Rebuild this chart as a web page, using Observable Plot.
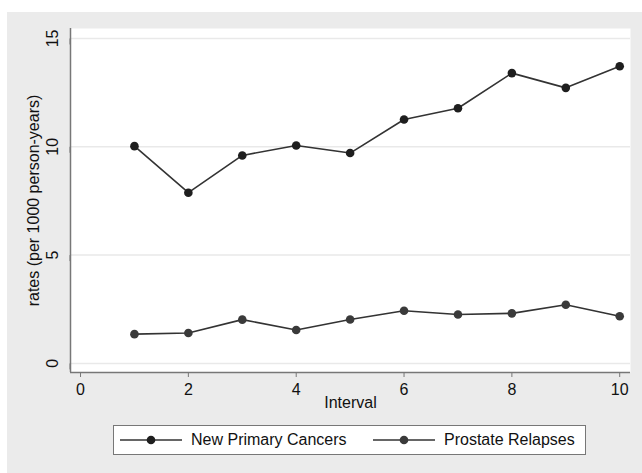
<!DOCTYPE html>
<html>
<head>
<meta charset="utf-8">
<script src="https://cdn.jsdelivr.net/npm/d3@7"></script>
<script src="https://cdn.jsdelivr.net/npm/@observablehq/plot@0.6"></script>
<style>
  html, body { margin: 0; padding: 0; background: #fff; }
  #wrap { position: relative; width: 642px; height: 473px; background: #fff; overflow: hidden;
          font-family: "Liberation Sans", Arial, Helvetica, sans-serif; }
  #bg { position: absolute; left: 7px; top: 12px; right: 0; bottom: 0; background: #ebebeb; }
  #chart { position: absolute; left: 0; top: 0; }
  #legend { position: absolute; left: 113px; top: 425px; width: 471px; height: 28px;
            background: #fff; border: 1px solid #777; font-size: 16px; color: #111; }
  .item { position: absolute; top: 0; height: 28px; display: flex; align-items: center; }
  .item svg { display: block; margin-right: 8px; }
</style>
</head>
<body>
<div id="wrap">
  <div id="bg"></div>
  <div id="chart"></div>
  <div id="legend"></div>
</div>
<script>
const intervals = [1, 2, 3, 4, 5, 6, 7, 8, 9, 10];
const newPrimary = [10.03, 7.88, 9.60, 10.06, 9.71, 11.26, 11.78, 13.40, 12.72, 13.72];
const prostate = [1.35, 1.40, 2.02, 1.54, 2.03, 2.43, 2.26, 2.31, 2.71, 2.18];
const seriesNames = ["New Primary Cancers", "Prostate Relapses"];
const seriesDotColors = ["#1e1e1e", "#3a3a3a"];
const xTicks = [0, 2, 4, 6, 8, 10];
const yTicks = [0, 5, 10, 15];
const xLabel = "Interval";
const yLabel = "rates (per 1000 person-years)";

const rows = [];
intervals.forEach((x, i) => {
  rows.push({interval: x, rate: newPrimary[i], series: seriesNames[0]});
  rows.push({interval: x, rate: prostate[i], series: seriesNames[1]});
});

const xDomain = [-0.186, 10.2];
const yDomain = [-0.42, 15.46];

const chart = Plot.plot({
  width: 642,
  height: 473,
  marginLeft: 70,
  marginRight: 12,
  marginTop: 28,
  marginBottom: 101,
  style: {background: "transparent", fontFamily: "'Liberation Sans', Arial, Helvetica, sans-serif", fontSize: "16px", color: "#111"},
  x: {domain: xDomain},
  y: {domain: yDomain},
  color: {domain: seriesNames, range: seriesDotColors},
  marks: [
    Plot.frame({fill: "#fff", stroke: "none"}),
    Plot.gridY(yTicks, {stroke: "#e9e9e9", strokeOpacity: 1, strokeWidth: 1.5}),
    Plot.ruleX([xDomain[0]], {stroke: "#777", strokeWidth: 1.5}),
    Plot.ruleY([yDomain[0]], {stroke: "#777", strokeWidth: 1.5}),
    Plot.axisY(yTicks, {anchor: "left", tickSize: 6, tickPadding: 12, rotate: -90, textAnchor: "middle", stroke: "#777", label: null, fontSize: 16}),
    Plot.axisX(xTicks, {anchor: "bottom", tickSize: 5, tickPadding: 6, stroke: "#777", label: null, fontSize: 16}),
    Plot.text([yLabel], {frameAnchor: "left", textAnchor: "middle", rotate: -90, dx: -37, fontSize: 16, fill: "#111"}),
    Plot.text([xLabel], {frameAnchor: "bottom", dy: 35, fontSize: 16, fill: "#111"}),
    Plot.line(rows, {x: "interval", y: "rate", z: "series", stroke: "#333", strokeWidth: 1.6}),
    Plot.dot(rows, {x: "interval", y: "rate", fill: "series", r: 4.3, stroke: null})
  ]
});
document.getElementById("chart").appendChild(chart);

// Legend
const legend = document.getElementById("legend");
const lefts = [6, 259];
seriesNames.forEach((name, i) => {
  const item = document.createElement("div");
  item.className = "item";
  item.style.left = lefts[i] + "px";
  const ns = "http://www.w3.org/2000/svg";
  const svg = document.createElementNS(ns, "svg");
  svg.setAttribute("width", 63);
  svg.setAttribute("height", 12);
  const ln = document.createElementNS(ns, "line");
  ln.setAttribute("x1", 0); ln.setAttribute("x2", 62);
  ln.setAttribute("y1", 6); ln.setAttribute("y2", 6);
  ln.setAttribute("stroke", "#333"); ln.setAttribute("stroke-width", 1.6);
  const c = document.createElementNS(ns, "circle");
  c.setAttribute("cx", 31); c.setAttribute("cy", 6); c.setAttribute("r", 4.3);
  c.setAttribute("fill", seriesDotColors[i]);
  svg.appendChild(ln); svg.appendChild(c);
  const t = document.createElement("span");
  t.textContent = name;
  item.appendChild(svg); item.appendChild(t);
  legend.appendChild(item);
});
</script>
</body>
</html>
